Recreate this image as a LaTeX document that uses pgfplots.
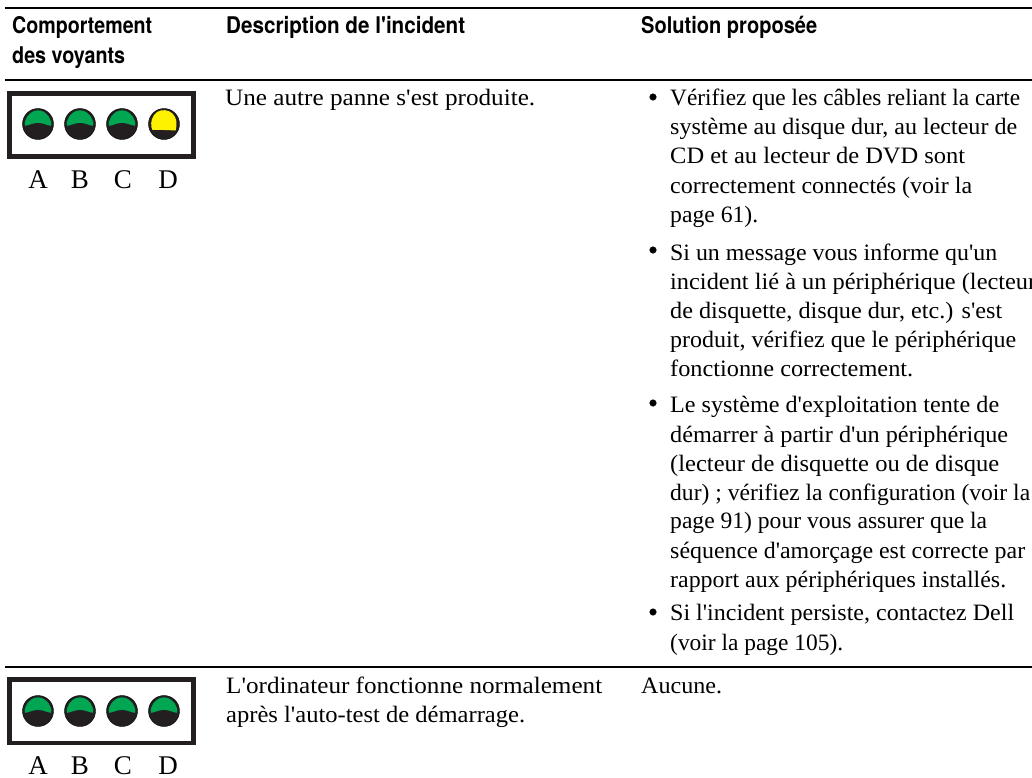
\documentclass[border=0pt]{standalone}
\usepackage{pgfplots}
\pgfplotsset{compat=1.18}
\usepackage{pgfplotstable}
\usepackage{graphicx}
\usepackage{fontspec}
\newfontfamily\tx{Liberation Serif}
\newfontfamily\hd{TeX Gyre Heros}
\definecolor{ledgreen}{HTML}{00A651}
\definecolor{ledyellow}{HTML}{FFF200}
\definecolor{leddark}{HTML}{231F20}
\pgfplotstableread{
x y
-13 1.8
-13.4 -1
-12.5 -4
-10.5 -8
-7.5 -11
-4 -13
0 -13.7
4 -13
7.5 -11
10.5 -8
12.5 -4
13.4 -1
13 1.8
10 1.2
7 0.2
4 -0.6
0 -1.2
-4 -0.6
-7 0.2
-10 1.2
-13 1.8
}\greenshape
\pgfplotstableread{
x y
-11.5 6
-12.6 3
-12.8 -1
-12 -5
-10 -9
-7 -12
-3 -13.6
1 -13.8
5 -12.8
8.5 -10.5
11 -7
12.4 -3
12.4 2
11.8 6.4
5 6.2
0 6
-5 5.8
-11.5 6
}\yellowshape
\newcommand\led[4]{%
 \addplot[only marks,mark=*,mark size=15.5pt,mark options={fill=leddark,draw=none}] coordinates {(#1,#2)};
 \addplot[fill=#4,draw=none] table[x expr=\thisrow{x}+#1,y expr=\thisrow{y}+#2] {#3} -- cycle;
}
% x, baseline y, right end x, text
\newcommand\tl[4]{\node[anchor=base west,inner sep=0pt,font=\fontsize{23.5}{28}\tx] at (axis cs:#1,#2) {\pgfmathparse{#3-#1}\resizebox{\pgfmathresult pt}{\height}{#4}};}
\newcommand\hl[4]{\node[anchor=base west,inner sep=0pt,font=\fontsize{23}{26}\hd\bfseries] at (axis cs:#1,#2) {\pgfmathparse{#3-#1}\resizebox{\pgfmathresult pt}{\height}{#4}};}
\newcommand\lab[3]{\node[anchor=base,inner sep=0pt,font=\fontsize{27}{30}\tx] at (axis cs:#1,#2) {#3};}
\begin{document}
\begin{tikzpicture}
\path[clip,use as bounding box] (0,0) rectangle (1032pt,777pt);
\begin{axis}[at={(0,0)},anchor=south west,scale only axis,width=1032pt,height=777pt,
  xmin=0,xmax=1032,ymin=0,ymax=777,y dir=reverse,hide axis,clip=false,clip mode=individual]
\addplot[black,line width=2pt] coordinates {(5,8) (1032,8)};
\addplot[black,line width=2pt] coordinates {(5,80) (1032,80)};
\addplot[black,line width=2pt] coordinates {(5,667) (1032,667)};
\addplot[leddark,line width=4.7pt] coordinates {(9.7,93.3) (193.3,93.3) (193.3,156.3) (9.7,156.3) (9.7,93.3) (193.3,93.3)};
\addplot[leddark,line width=4.7pt] coordinates {(9.7,679.7) (193.3,679.7) (193.3,743) (9.7,743) (9.7,679.7) (193.3,679.7)};
\led{38}{124}{\greenshape}{ledgreen}
\led{80}{124}{\greenshape}{ledgreen}
\led{122}{124}{\greenshape}{ledgreen}
\led{164}{124}{\yellowshape}{ledyellow}
\led{38}{711}{\greenshape}{ledgreen}
\led{80}{711}{\greenshape}{ledgreen}
\led{122}{711}{\greenshape}{ledgreen}
\led{164}{711}{\greenshape}{ledgreen}
\addplot[only marks,mark=*,mark size=3.3pt,mark options={fill=black,draw=none}] coordinates {(653,97) (653,250) (653,403) (653,612)};
\lab{38}{188}{A}\lab{80}{188}{B}\lab{123}{188}{C}\lab{168}{188}{D}
\lab{38}{774.5}{A}\lab{80}{774.5}{B}\lab{123}{774.5}{C}\lab{168}{774.5}{D}
\hl{12}{33}{152}{Comportement}
\hl{12}{63}{125}{des voyants}
\hl{226}{33}{465}{Description de l'incident}
\hl{641}{33}{817}{Solution proposée}
\tl{225}{105}{535}{Une autre panne s'est produite.}
\tl{226}{693}{602}{L'ordinateur fonctionne normalement}
\tl{226}{722}{525}{après l'auto-test de démarrage.}
\tl{641}{693}{722}{Aucune.}
\tl{670}{105}{1020}{Vérifiez que les câbles reliant la carte}
\tl{670}{134}{1017}{système au disque dur, au lecteur de}
\tl{670}{163}{965}{CD et au lecteur de DVD sont}
\tl{670}{193}{972}{correctement connectés (voir la}
\tl{670}{222}{758}{page 61).}
\tl{670}{260}{997}{Si un message vous informe qu'un}
\tl{670}{289}{1036}{incident lié à un périphérique (lecteur}
\tl{670}{318}{1002}{de disquette, disque dur, etc.) s'est}
\tl{670}{347}{1016}{produit, vérifiez que le périphérique}
\tl{670}{376}{913}{fonctionne correctement.}
\tl{670}{412}{999}{Le système d'exploitation tente de}
\tl{670}{442}{1008}{démarrer à partir d'un périphérique}
\tl{670}{471}{999}{(lecteur de disquette ou de disque}
\tl{670}{500}{1030}{dur) ; vérifiez la configuration (voir la}
\tl{670}{528}{987}{page 91) pour vous assurer que la}
\tl{670}{558}{1025}{séquence d'amorçage est correcte par}
\tl{670}{587}{1006}{rapport aux périphériques installés.}
\tl{670}{620}{1014}{Si l'incident persiste, contactez Dell}
\tl{670}{650}{843}{(voir la page 105).}
\end{axis}
\end{tikzpicture}
\end{document}
